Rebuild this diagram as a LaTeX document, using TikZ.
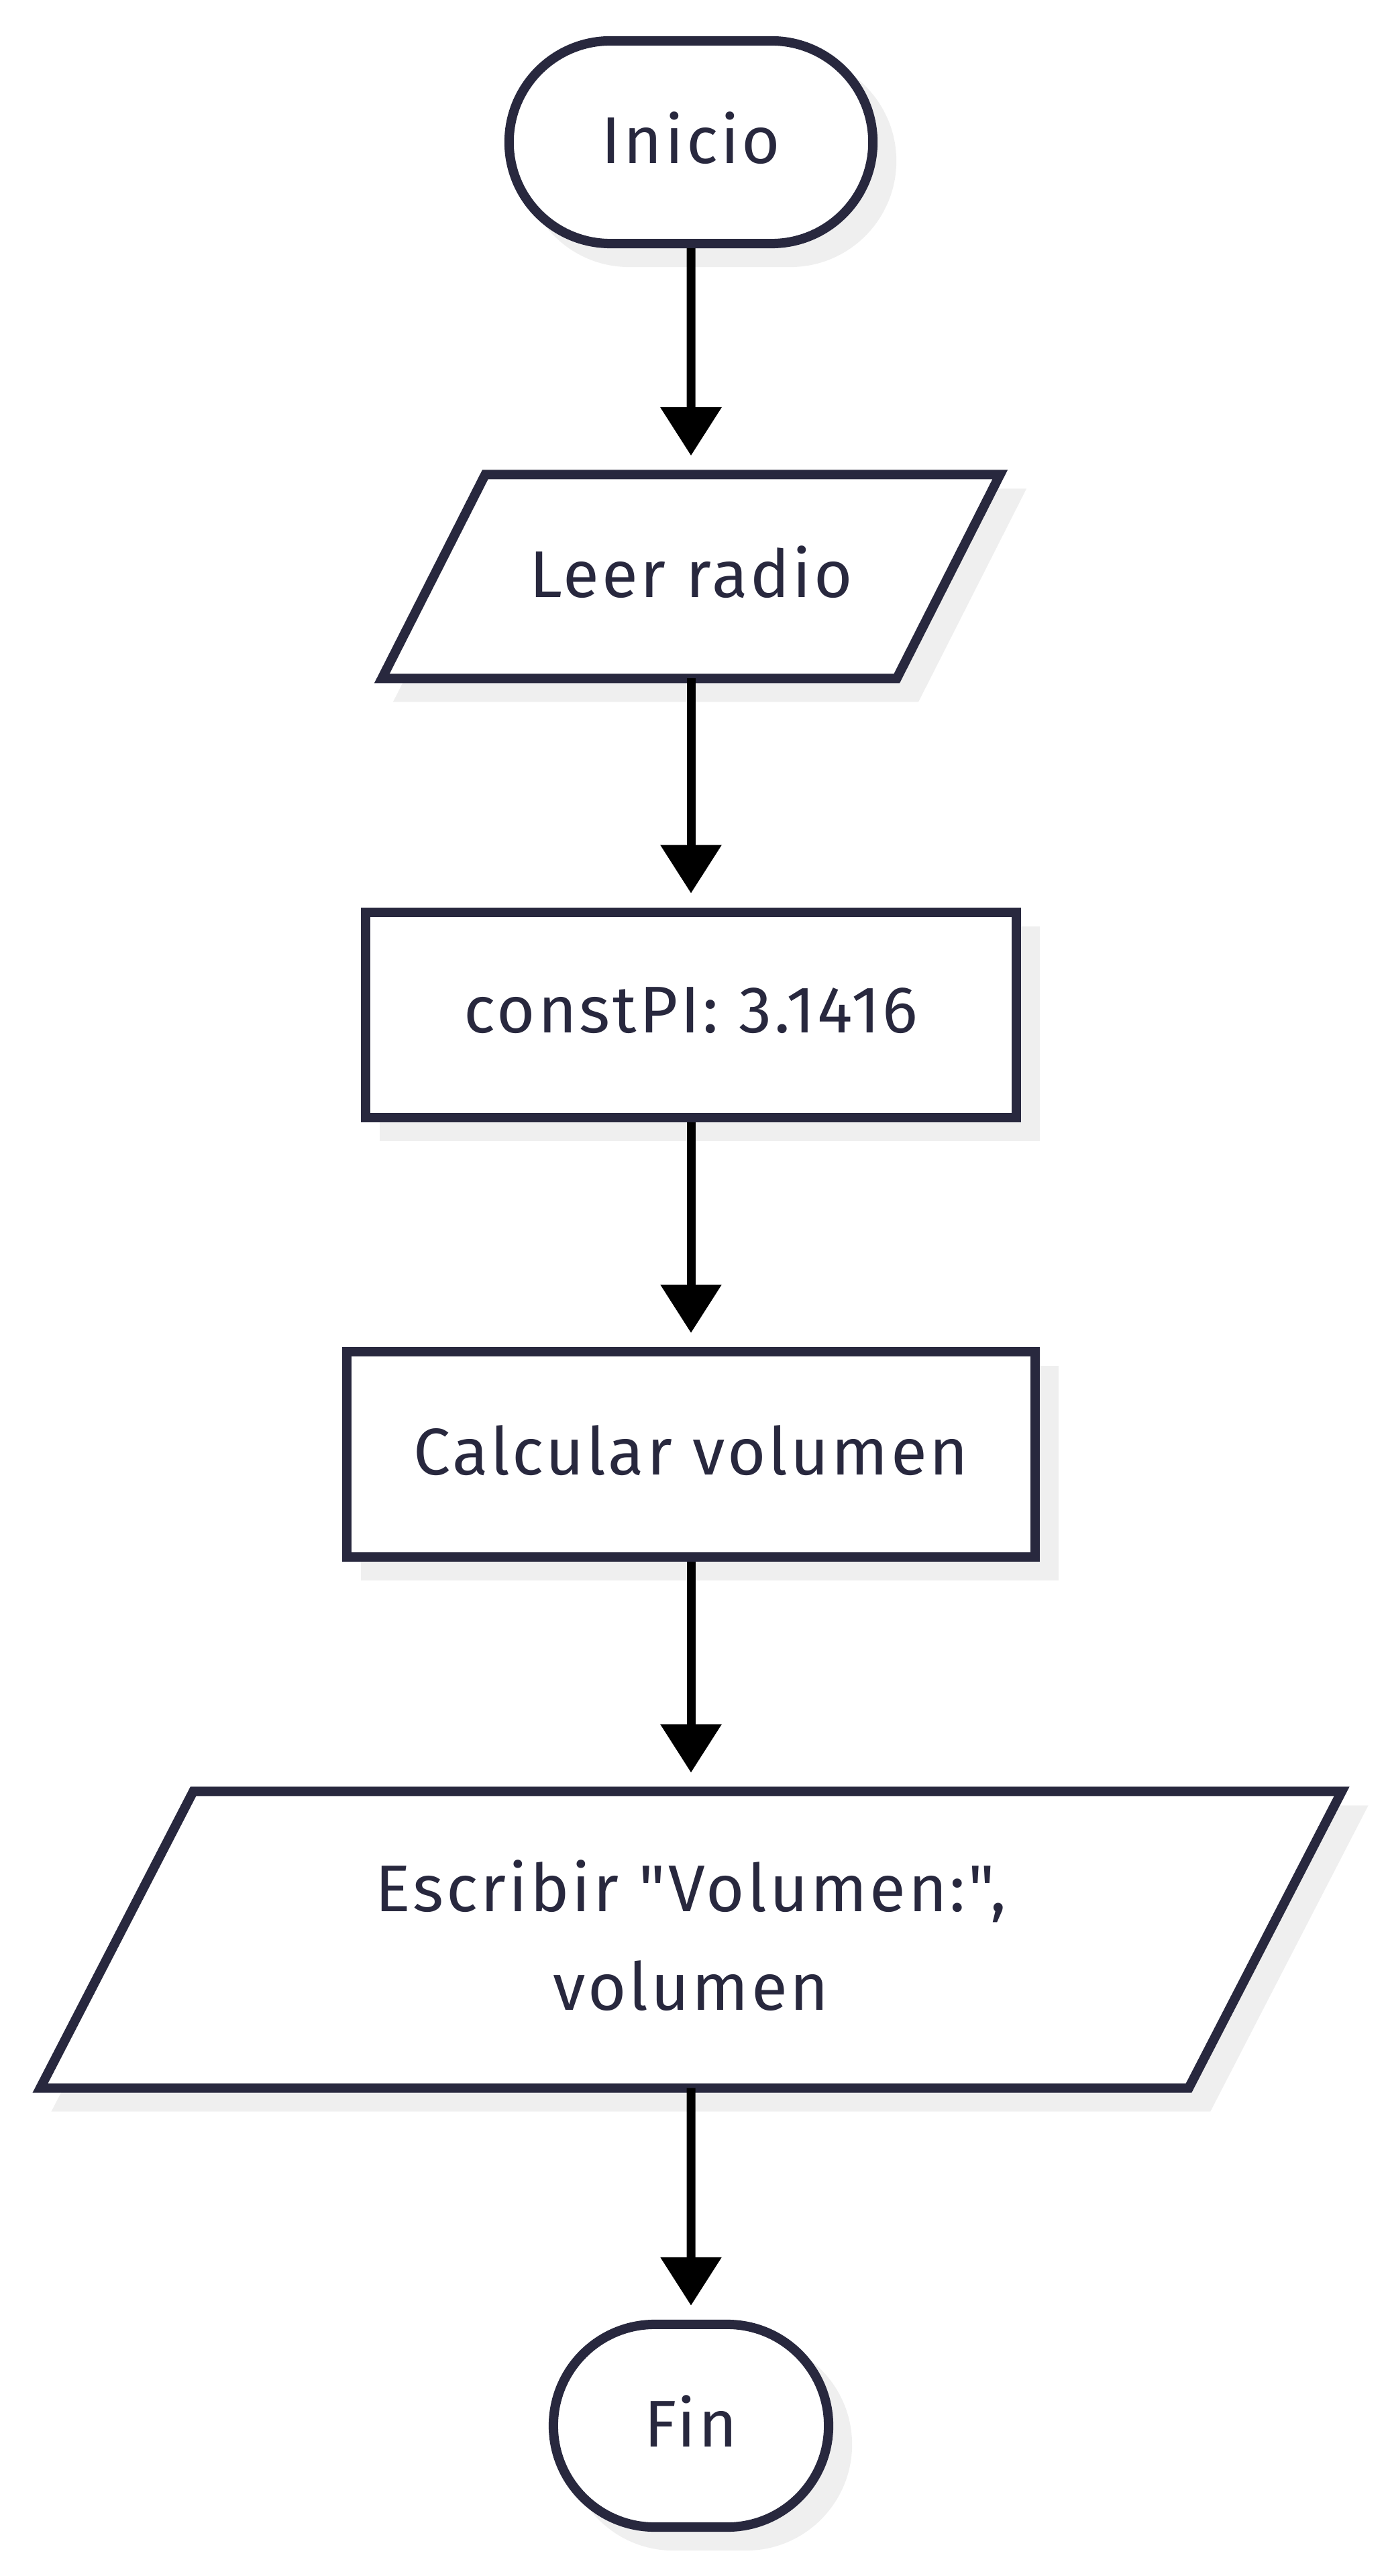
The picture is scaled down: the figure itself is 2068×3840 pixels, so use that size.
\documentclass[tikz,border=0pt]{standalone}
\usepackage{fontspec}
\newfontfamily\flowfont{Fira Sans}[LetterSpace=4]
\usetikzlibrary{arrows.meta, positioning, shapes.misc, backgrounds}
\definecolor{ink}{HTML}{28283E}
\definecolor{shadowgray}{HTML}{EFEFEF}

\begin{document}
\begin{tikzpicture}[
  x=0.01cm, y=-0.01cm,
  txt/.style={text=ink, inner sep=0pt, align=center, text depth=0.14cm,
              font=\flowfont\fontsize{28}{42}\selectfont},
  outline/.style={draw=ink, line width=0.14cm, fill=white,
                  preaction={draw=shadowgray, fill=shadowgray, line width=0.14cm,
                             transform canvas={shift={(28,28)}}}},
  term/.style={txt, outline, rounded rectangle, minimum height=3.02cm},
  proc/.style={txt, outline, rectangle, minimum height=3.06cm},
  io/.style={txt, rectangle, outer sep=0pt},
  arr/.style={-{Triangle[length=0.72cm, width=0.88cm]}, line width=0.13cm,
              shorten >=0.21cm}
]
  \useasboundingbox (0,0) rectangle (2068,3840);

  \node[term, minimum width=5.42cm] (start) at (1030,212) {Inicio};
  \node[io, minimum width=7.67cm, minimum height=3.04cm, below=3.37cm of start]
        (read) {Leer radio};
  \node[proc, minimum width=9.7cm, below=3.41cm of read] (pi) {constPI: 3.1416};
  \node[proc, minimum width=10.25cm, below=3.35cm of pi] (calc)
        {Calcular volumen};
  \node[io, minimum width=17.11cm, minimum height=4.42cm, below=3.42cm of calc]
        (write) {Escribir "Volumen:",\\ volumen};
  \node[term, minimum width=4.1cm, below=3.45cm of write] (stop) {Fin};

  % slanted input/output frames
  \begin{scope}[on background layer]
    \draw[outline] ([xshift=0.77cm]read.north west) -- ([xshift=0.77cm]read.north east)
      -- ([xshift=-0.77cm]read.south east) -- ([xshift=-0.77cm]read.south west) -- cycle;
    \draw[outline] ([xshift=1.14cm]write.north west) -- ([xshift=1.14cm]write.north east)
      -- ([xshift=-1.14cm]write.south east) -- ([xshift=-1.14cm]write.south west) -- cycle;
  \end{scope}

  \draw[arr, shorten >=0.28cm] (start) -- (read);
  \draw[arr] (read)  -- (pi);
  \draw[arr] (pi)    -- (calc);
  \draw[arr, shorten >=0.28cm] (calc)  -- (write);
  \draw[arr] (write) -- (stop);
\end{tikzpicture}
\end{document}
